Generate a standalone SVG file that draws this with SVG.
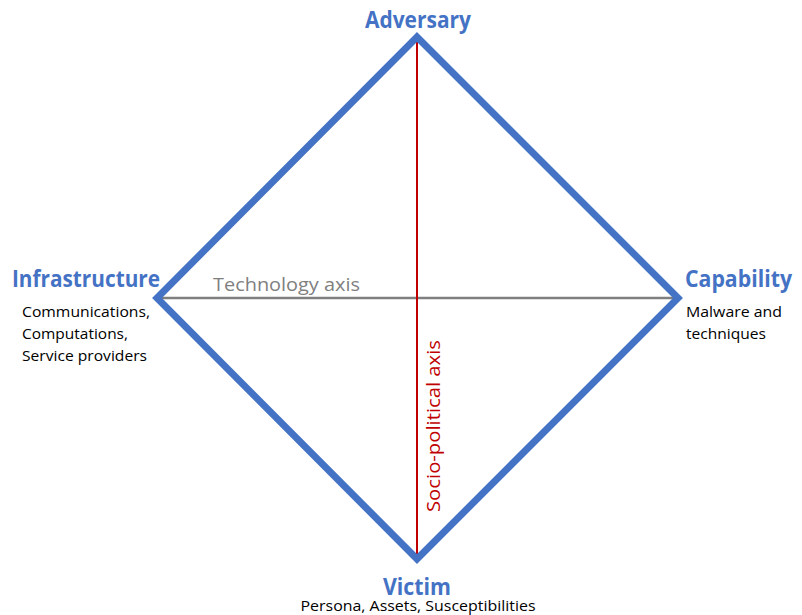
<svg xmlns="http://www.w3.org/2000/svg" width="802" height="615" viewBox="0 0 802 615">
  <style>
    text { font-family: "Open Sans", "Noto Sans", "Liberation Sans", sans-serif; }
    .title { font-size: 23px; font-weight: bold; fill: #4472C4; }
    .desc { font-size: 14.5px; fill: #000000; }
    .axis-tech { font-size: 19px; fill: #7F7F7F; }
    .axis-socio { font-size: 19px; fill: #C00000; }
  </style>
  <rect width="802" height="615" fill="#FFFFFF"/>

  <!-- Axes and the diamond outline -->
  <g id="connectors">
    <line x1="157" y1="298" x2="678" y2="298" stroke="#7F7F7F" stroke-width="2.5"/>
    <line x1="417" y1="37" x2="417" y2="559" stroke="#C00000" stroke-width="2"/>
    <polygon points="417,37 678,298 417,559 157,298" fill="none" stroke="#4472C4" stroke-width="7" stroke-linejoin="miter"/>
  </g>

  <g id="adversary">
    <text class="title" x="418" y="28" text-anchor="middle" textLength="106" lengthAdjust="spacingAndGlyphs">Adversary</text>
  </g>

  <g id="infrastructure">
    <text class="title" x="12" y="287" textLength="148" lengthAdjust="spacingAndGlyphs">Infrastructure</text>
    <text class="desc" x="22" y="317" textLength="128" lengthAdjust="spacingAndGlyphs">Communications,</text>
    <text class="desc" x="22" y="339" textLength="106" lengthAdjust="spacingAndGlyphs">Computations,</text>
    <text class="desc" x="22" y="361" textLength="125" lengthAdjust="spacingAndGlyphs">Service providers</text>
  </g>

  <g id="capability">
    <text class="title" x="685" y="287" textLength="107" lengthAdjust="spacingAndGlyphs">Capability</text>
    <text class="desc" x="686" y="317" textLength="96" lengthAdjust="spacingAndGlyphs">Malware and</text>
    <text class="desc" x="686" y="339" textLength="80" lengthAdjust="spacingAndGlyphs">techniques</text>
  </g>

  <g id="victim">
    <text class="title" x="417" y="595" text-anchor="middle" font-size="22" textLength="68" lengthAdjust="spacingAndGlyphs">Victim</text>
    <text class="desc" x="418" y="611" text-anchor="middle" font-size="14" textLength="235" lengthAdjust="spacingAndGlyphs">Persona, Assets, Susceptibilities</text>
  </g>

  <g id="axis-labels">
    <text class="axis-tech" x="213" y="291" textLength="147" lengthAdjust="spacingAndGlyphs">Technology axis</text>
    <text class="axis-socio" transform="translate(440,512) rotate(-90)" x="0" y="0" textLength="172" lengthAdjust="spacingAndGlyphs">Socio-political axis</text>
  </g>
</svg>
